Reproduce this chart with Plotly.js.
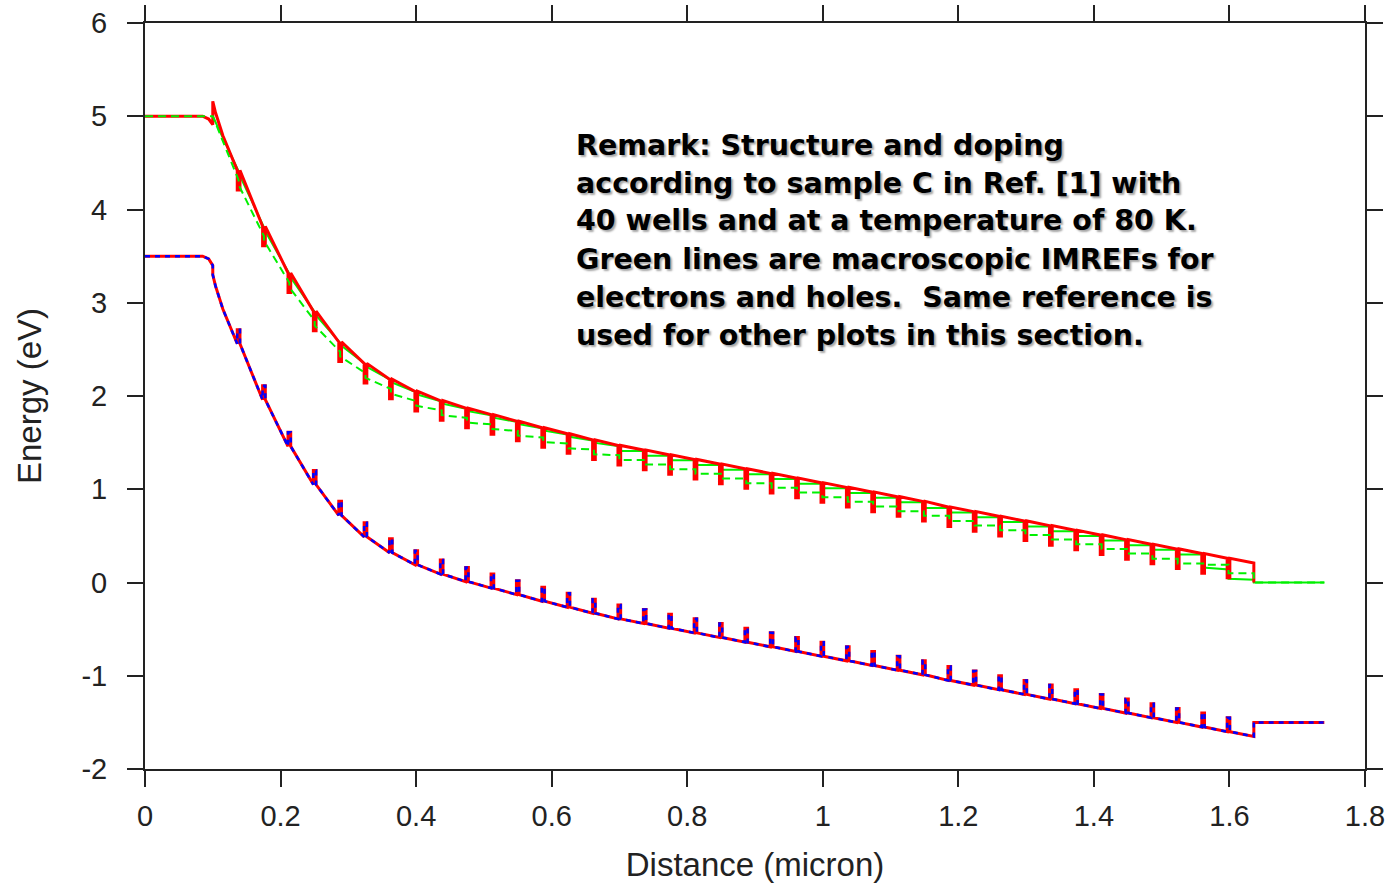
<!DOCTYPE html>
<html><head><meta charset="utf-8">
<script src="https://cdn.plot.ly/plotly-3.0.1.min.js"></script>
<style>html,body{margin:0;padding:0;background:#fff}#chart{width:1397px;height:885px}</style>
</head><body><div id="chart"></div>
<script>
// ---- data ----
const wellX = [0.1361,0.1735,0.2110,0.2484,0.2859,0.3233,0.3608,0.3982,0.4357,0.4731,
  0.5106,0.5480,0.5855,0.6229,0.6604,0.6978,0.7353,0.7727,0.8102,0.8476,
  0.8851,0.9225,0.9600,0.9974,1.0349,1.0723,1.1098,1.1472,1.1847,1.2221,
  1.2596,1.2970,1.3345,1.3719,1.4094,1.4468,1.4843,1.5217,1.5592,1.5966];
const ecAtWell = [4.42,3.82,3.32,2.91,2.58,2.35,2.18,2.05,1.95,1.87,
  1.80,1.73,1.66,1.595,1.53,1.47,1.42,1.37,1.32,1.27,
  1.22,1.17,1.12,1.07,1.02,0.97,0.92,0.87,0.81,0.76,
  0.71,0.66,0.61,0.56,0.51,0.46,0.41,0.36,0.31,0.26];
const evAtWell = [2.56,1.96,1.46,1.05,0.72,0.49,0.32,0.19,0.09,0.01,
  -0.06,-0.13,-0.20,-0.265,-0.33,-0.39,-0.44,-0.49,-0.54,-0.59,
  -0.64,-0.69,-0.74,-0.79,-0.84,-0.89,-0.94,-0.99,-1.05,-1.10,
  -1.15,-1.20,-1.25,-1.30,-1.35,-1.40,-1.45,-1.50,-1.55,-1.60];
const wellWidth = 0.004;
const ecWellDepth = 0.21;
const evWellHeight = 0.15;

const leftContactX  = [0, 0.085, 0.094, 0.099, 0.1];
const leftContactEc = [5.0, 5.0, 4.97, 4.93, 4.91];
const leftContactEv = [3.5, 3.5, 3.47, 3.42, 3.40];
const firstBarrierX  = [0.1, 0.104, 0.115, 0.125];
const firstBarrierEc = [5.16, 5.04, 4.79, 4.61];
const firstBarrierEv = [3.30, 3.18, 2.93, 2.75];
const lastBarrierEndX = 1.636;
const lastBarrierEc = 0.21, lastBarrierEv = -1.65;
const rightContactEndX = 1.74;
const rightContactEc = 0.0, rightContactEv = -1.5;

// IMREF staircases: value at start / end of each barrier (41 barriers)
const imrefDashedStart = [5.00,4.265,3.665,3.165,2.755,2.425,2.195,2.025,1.895,1.795,1.715,
  1.645,1.575,1.505,1.44,1.375,1.315,1.265,1.215,1.165,1.115,
  1.065,1.015,0.965,0.915,0.865,0.815,0.765,0.715,0.66,0.61,
  0.56,0.51,0.46,0.41,0.36,0.31,0.255,0.205,0.19,0.10];
const imrefDashedEnd = [4.315,3.715,3.215,2.805,2.475,2.245,2.075,1.945,1.845,1.765,1.695,
  1.625,1.555,1.49,1.425,1.365,1.315,1.265,1.215,1.165,1.115,
  1.065,1.015,0.965,0.915,0.865,0.815,0.765,0.715,0.66,0.61,
  0.56,0.51,0.46,0.41,0.36,0.31,0.255,0.205,0.19,0.10];
const imrefSolidStart = [5.00,4.39,3.79,3.29,2.88,2.55,2.32,2.15,2.02,1.92,1.84,
  1.77,1.70,1.63,1.565,1.50,1.41,1.36,1.31,1.26,1.21,
  1.16,1.11,1.06,1.01,0.96,0.91,0.86,0.80,0.75,0.70,
  0.65,0.60,0.55,0.50,0.45,0.40,0.35,0.30,0.16,0.04];
const imrefSolidEnd = [4.41,3.81,3.31,2.90,2.57,2.34,2.17,2.04,1.94,1.86,1.79,
  1.72,1.65,1.585,1.52,1.46,1.41,1.36,1.31,1.26,1.21,
  1.16,1.11,1.06,1.01,0.96,0.91,0.86,0.80,0.75,0.70,
  0.65,0.60,0.55,0.50,0.45,0.40,0.35,0.30,0.14,0.03];

const xTickVals = [0,0.2,0.4,0.6,0.8,1,1.2,1.4,1.6,1.8];
const xTickText = ['0','0.2','0.4','0.6','0.8','1','1.2','1.4','1.6','1.8'];
const yTickVals = [-2,-1,0,1,2,3,4,5,6];
const yTickText = ['-2','-1','0','1','2','3','4','5','6'];

const remarkLines = [
  'Remark: Structure and doping',
  'according to sample C in Ref. [1] with',
  '40 wells and at a temperature of 80 K.',
  'Green lines are macroscopic IMREFs for',
  'electrons and holes.  Same reference is',
  'used for other plots in this section.'
];

// ---- build band traces ----
function band(contact, barrier0, atWell, offset, lastVal, contactRight, endX) {
  const x = [...leftContactX], y = [...contact];
  x.push(...firstBarrierX); y.push(...barrier0);
  for (let k = 0; k < wellX.length; k++) {
    const e = atWell[k];
    x.push(wellX[k], wellX[k], wellX[k] + wellWidth, wellX[k] + wellWidth);
    y.push(e, e + offset, e + offset, e);
  }
  x.push(lastBarrierEndX, lastBarrierEndX, endX);
  y.push(lastVal, contactRight, contactRight);
  return {x, y};
}
function imref(starts, ends, leftFlat) {
  const x = [], y = [];
  if (leftFlat) { x.push(0); y.push(starts[0]); }
  x.push(0.1); y.push(starts[0]);
  for (let k = 0; k < wellX.length; k++) {
    const m = wellX[k] + wellWidth / 2;
    x.push(m, m); y.push(ends[k], starts[k + 1]);
  }
  x.push(lastBarrierEndX, lastBarrierEndX, rightContactEndX);
  y.push(ends[ends.length - 1], rightContactEc, rightContactEc);
  return {x, y};
}
const ec = band(leftContactEc, firstBarrierEc, ecAtWell, -ecWellDepth, lastBarrierEc, rightContactEc, lastBarrierEndX);
const ev = band(leftContactEv, firstBarrierEv, evAtWell, evWellHeight, lastBarrierEv, rightContactEv, rightContactEndX);
const gd = imref(imrefDashedStart, imrefDashedEnd, true);
const gs = imref(imrefSolidStart, imrefSolidEnd, false);

const GREEN = '#00f000';
const traces = [
  {x: gs.x, y: gs.y, mode: 'lines', line: {color: GREEN, width: 2}, name: 'IMREF n'},
  {x: ec.x, y: ec.y, mode: 'lines', line: {color: '#ff0000', width: 3}, name: 'Ec'},
  {x: ev.x, y: ev.y, mode: 'lines', line: {color: '#ff0000', width: 3}, name: 'Ev'},
  {x: gd.x, y: gd.y, mode: 'lines', line: {color: GREEN, width: 2, dash: '8px,5px'}, name: 'IMREF p'},
  {x: ev.x, y: ev.y, mode: 'lines', line: {color: '#0000ff', width: 2.5, dash: '5px,5px'}, name: 'Ev2'}
];

const FONT = 'Liberation Sans, Arial, sans-serif';
const axisCommon = {
  showgrid: false, zeroline: false, showline: true, mirror: 'ticks',
  linecolor: '#222', linewidth: 2, ticks: 'outside', ticklen: 16, tickwidth: 2,
  tickcolor: '#222', tickfont: {family: FONT, size: 29, color: '#222'},
  tickmode: 'array'
};
// remark lines placed 38 px apart, first line centred 145 px from the top
const plotTop = 23, plotH = 746;
const annotations = remarkLines.map((t, i) => ({
  xref: 'paper', yref: 'paper', x: 0.352, y: 1 - (145 + 38 * i - plotTop) / plotH,
  xanchor: 'left', yanchor: 'middle', align: 'left', showarrow: false, text: t,
  font: {family: 'DejaVu Sans, Verdana, sans-serif', size: 28.5, color: '#000', weight: 'bold',
    shadow: '2px 2px 2px rgba(0,0,0,0.35)'}
}));
const layout = {
  width: 1397, height: 885,
  margin: {l: 145, r: 32, t: 23, b: 116},
  paper_bgcolor: '#fff', plot_bgcolor: '#fff',
  showlegend: false,
  xaxis: Object.assign({}, axisCommon, {
    range: [0, 1.8], tickvals: xTickVals, ticktext: xTickText, ticklabelstandoff: 4,
    title: {text: 'Distance (micron)', font: {family: FONT, size: 33, color: '#222'}, standoff: 22}
  }),
  yaxis: Object.assign({}, axisCommon, {
    range: [-2, 6], tickvals: yTickVals, ticktext: yTickText, ticklabelstandoff: 14,
    title: {text: 'Energy (eV)', font: {family: FONT, size: 33, color: '#222'}, standoff: 30}
  }),
  annotations: annotations
};
Plotly.newPlot('chart', traces, layout, {staticPlot: true, displayModeBar: false});
</script>
</body></html>
